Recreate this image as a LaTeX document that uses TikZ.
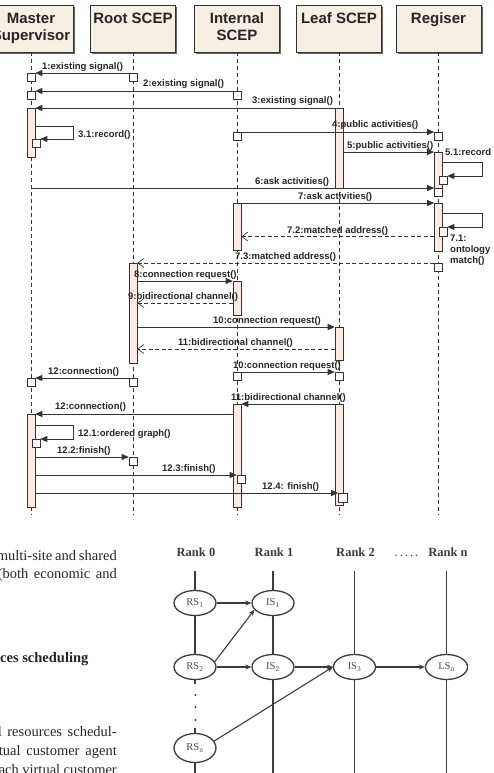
\documentclass[tikz,border=0pt]{standalone}
\usepackage{fontspec}
\setmainfont{Liberation Serif}
\setsansfont{Liberation Sans}
\usetikzlibrary{arrows.meta,shapes.geometric,shadows,calc}
\definecolor{linec}{HTML}{333333}
\definecolor{hdrfill}{HTML}{F6F0E4}
\definecolor{barfill}{HTML}{FBEBE4}
\definecolor{gc}{HTML}{3C3C3C}
\begin{document}
\begin{tikzpicture}[x=1pt,y=-1pt,
  hdr/.style={rectangle, draw=linec, line width=0.8pt, fill=hdrfill, minimum width=85pt, minimum height=47pt, inner sep=0pt, align=center, font=\sffamily\bfseries\fontsize{15}{17}\selectfont, text=black!85, drop shadow={shadow xshift=1.6pt, shadow yshift=-1.6pt, fill=black!60, opacity=1}},
  life/.style={draw=linec, line width=0.9pt, dash pattern=on 4pt off 3pt},
  bar/.style={rectangle, draw=linec, line width=0.6pt, fill=barfill, minimum width=8pt, inner sep=0pt, anchor=north},
  sbox/.style={rectangle, draw=linec, line width=0.6pt, fill=white, minimum width=8pt, minimum height=8pt, inner sep=0pt, anchor=north},
  msg/.style={draw=linec, line width=0.7pt, -{Triangle[length=7pt,width=6pt]}},
  ret/.style={draw=linec, line width=0.7pt, dash pattern=on 4pt off 2.5pt, -{Straight Barb[length=6pt,width=9pt]}},
  lbl/.style={font=\sffamily\bfseries\fontsize{9.5}{11}\selectfont, text=black!85, inner sep=0pt, anchor=base west},
  rank/.style={font=\bfseries\fontsize{12.5}{14}\selectfont, text=gc, anchor=base, inner sep=0pt},
  ell/.style={ellipse, draw=gc, line width=1.3pt, fill=white, minimum width=42pt, minimum height=25pt, inner sep=0pt, font=\fontsize{10.5}{12}\selectfont, text=black!70},
  vl/.style={draw=gc, line width=1.4pt},
  ga/.style={draw=gc, line width=1.1pt, -{Stealth[length=6pt,width=5pt]}},
  tx/.style={font=\fontsize{14.5}{16}\selectfont, text=black!85, inner sep=0pt}
]
\fill[white] (0,0) rectangle (493,773);
\useasboundingbox (0,0) rectangle (493,773);

% ---------------- headers ----------------
\node[hdr] (hM) at (31,28.5) {Master\strut\\Supervisor\strut};
\node[hdr] (hR) at (133,28.5) {Root SCEP\strut\\\strut};
\node[hdr] (hI) at (237,28.5) {Internal\strut\\SCEP\strut};
\node[hdr] (hL) at (339,28.5) {Leaf SCEP\strut\\\strut};
\node[hdr] (hG) at (438.5,28.5) {Regiser\strut\\\strut};

% ---------------- lifelines ----------------
\coordinate (eM) at (31,515);
\coordinate (eR) at (133,515);
\coordinate (eI) at (237,515);
\coordinate (eL) at (339,515);
\coordinate (eG) at (438.5,515);
\draw[life] (hM.south) -- (eM);
\draw[life] (hR.south) -- (eR);
\draw[life] (hI.south) -- (eI);
\draw[life] (hL.south) -- (eL);
\draw[life] (hG.south) -- (eG);

% ---------------- activation bars ----------------
\node[bar, minimum height=49pt] (M1) at (31,108) {};
\node[bar, minimum height=80pt] (L1) at (339,108) {};
\node[bar, minimum height=44pt] (G1) at (438.5,152) {};
\node[bar, minimum height=47pt] (I1) at (237,203) {};
\node[bar, minimum height=48pt] (G2) at (438.5,203) {};
\node[bar, minimum height=100pt] (R1) at (133,263) {};
\node[bar, minimum height=34pt] (I2) at (237,281) {};
\node[bar, minimum height=33pt] (L2) at (339,327) {};
\node[bar, minimum height=103pt] (I3) at (237,404) {};
\node[bar, minimum height=101pt] (L3) at (339,404) {};
\node[bar, minimum height=93pt] (M2) at (31,414) {};

% ---------------- small boxes ----------------
\node[sbox] (sM1) at (31,73) {};
\node[sbox] (sR1) at (133,73) {};
\node[sbox] (sM2) at (31,91) {};
\node[sbox] (sI2) at (237,91) {};
\node[sbox] (s31) at (36,139) {};
\node[sbox] (sI4) at (237,132) {};
\node[sbox] (sG4) at (438.5,132) {};
\node[sbox] (s51) at (443,176) {};
\node[sbox] (sG6) at (438.5,188) {};
\node[sbox, minimum height=9pt] (s71) at (443,227) {};
\node[sbox] (sG73) at (438.5,263) {};
\node[sbox] (sI10) at (237,372) {};
\node[sbox] (sL10) at (339,372) {};
\node[sbox] (sR12) at (133,378) {};
\node[sbox] (sM12) at (31,378) {};
\node[sbox] (s121) at (36,439) {};
\node[sbox] (sR122) at (133,457) {};
\node[sbox] (sI123) at (241,475) {};
\node[sbox, minimum width=9pt, minimum height=9pt] (sL124) at (343,493) {};

% ---------------- messages ----------------
\draw[msg] (sR1.north west) -- (sM1.north east);
\draw[msg] (sI2.north west) -- (sM2.north east);
\draw[msg] (L1.north west) -- (M1.north east);
\draw[msg] ($(M1.north east)+(0,18)$) -- ++(38,0) |- (s31.north east);
\draw[msg] (sI4.north east) -- (sG4.north west);
\draw[msg] ($(L1.north east)+(0,44)$) -- (G1.north west);
\draw[msg] ($(G1.north east)+(0,10)$) -- ++(40,0) |- (s51.north east);
\draw[msg] (hM.south |- sG6.north) -- (sG6.north west);
\draw[msg] (I1.north east) -- (G2.north west);
\draw[msg] ($(G2.north east)+(0,10)$) -- ++(40,0) |- (s71.north east);
\draw[ret] (G2.west |- s71.south) -- (I1.east |- s71.south);
\draw[ret] (sG73.north west) -- (R1.north east);
\draw[msg] ($(R1.north east)+(0,18)$) -- (I2.north west);
\coordinate (c9) at ($(I2.north west)+(0,22)$);
\draw[ret] (c9) -- (R1.east |- c9);
\draw[msg] (R1.east |- L2.north) -- (L2.north west);
\coordinate (c11) at ($(L2.north west)+(0,22)$);
\draw[ret] (c11) -- (R1.east |- c11);
\draw[msg] (sI10.north east) -- (sL10.north west);
\draw[msg] (sR12.north west) -- (sM12.north east);
\draw[msg] (L3.north west) -- (I3.north east);
\draw[msg] (I3.west |- M2.north) -- (M2.north east);
\draw[msg] ($(M2.north east)+(0,11)$) -- ++(38,0) |- (s121.north east);
\draw[msg] (M2.east |- sR122.north) -- (sR122.north west);
\draw[msg] (M2.east |- sI123.north) -- (sI123.north west);
\draw[msg] (M2.east |- sL124.north) -- (sL124.north west);

% ---------------- message labels ----------------
\node[lbl] (m1) at (42,70) {1:existing signal()};
\node[lbl] (m2) at (143,87) {2:existing signal()};
\node[lbl] (m3) at (252,104) {3:existing signal()};
\node[lbl] (m31) at (78,137) {3.1:record()};
\node[lbl] (m4) at (332,128) {4:public activities()};
\node[lbl] (m5) at (347,148) {5:public activities()};
\node[lbl] (m51) at (445,155) {5.1:record};
\node[lbl] (m6) at (255,184) {6:ask activities()};
\node[lbl] (m7) at (298,199) {7:ask activities()};
\node[lbl, anchor=north west, align=left] (m71) at (450,235) {7.1:\\ontology\\match()};
\node[lbl] (m72) at (287,233) {7.2:matched address()};
\node[lbl] (m73) at (235,259) {7.3:matched address()};
\node[lbl] (m8) at (134,277) {8:connection request()};
\node[lbl] (m9) at (128,299) {9:bidirectional channel()};
\node[lbl] (m10) at (213,323) {10:connection request()};
\node[lbl] (m11) at (178,345) {11:bidirectional channel()};
\node[lbl] (m10b) at (233,368) {10:connection request()};
\node[lbl] (m12) at (48,374) {12:connection()};
\node[lbl] (m11b) at (231,400) {11:bidirectional channel()};
\node[lbl] (m12b) at (55,409) {12:connection()};
\node[lbl] (m121) at (78,436) {12.1:ordered graph()};
\node[lbl] (m122) at (57,453) {12.2:finish()};
\node[lbl] (m123) at (162,471) {12.3:finish()};
\node[lbl] (m124) at (262,489) {12.4: finish()};

% ---------------- text fragment (left) ----------------
\node[tx, anchor=base east] (p1) at (117,560) {\makebox[120pt][s]{multi-site and shared}};
\node[tx, anchor=base east] (p2) at (117,578) {\makebox[119pt][s]{(both economic and}};
\node[tx, anchor=base west, font=\bfseries\fontsize{14.5}{16}\selectfont] (p3) at (0,662) {ces scheduling};
\node[tx, anchor=base east] (p4) at (117,736) {\makebox[119pt][s]{l resources schedul-}};
\node[tx, anchor=base east] (p5) at (117,755) {\makebox[118pt][s]{tual customer agent}};
\node[tx, anchor=base east] (p6) at (117,774) {\makebox[118pt][s]{ach virtual customer}};

% ---------------- rank graph ----------------
\node[rank] (rk0) at (196,556) {Rank 0};
\node[rank] (rk1) at (274,556) {Rank 1};
\node[rank] (rk2) at (355.5,556) {Rank 2};
\node[rank, font=\fontsize{12.5}{14}\selectfont] (rkd) at (406.5,556) {.\hspace{2pt}.\hspace{2pt}.\hspace{2pt}.\hspace{2pt}.};
\node[rank] (rkn) at (448,556) {Rank n};

\node[ell] (RS1) at (195,603) {RS\textsubscript{1}};
\node[ell] (IS1) at (273,603) {IS\textsubscript{1}};
\node[ell] (RS2) at (195,667) {RS\textsubscript{2}};
\node[ell] (IS2) at (273,667) {IS\textsubscript{2}};
\node[ell] (IS3) at (354.5,667) {IS\textsubscript{3}};
\node[ell] (LSn) at (446.5,667) {LS\textsubscript{n}};
\node[ell, minimum height=29pt] (RSn) at (195,748) {RS\textsubscript{n}};

\coordinate (t0) at (195,571); \coordinate (b0) at (195,773);
\coordinate (t1) at (273,571); \coordinate (b1) at (273,773);
\coordinate (t2) at (354.5,571); \coordinate (b2) at (354.5,773);
\coordinate (t3) at (446.5,571); \coordinate (b3) at (446.5,773);
\coordinate (d0a) at (195,684); \coordinate (d0b) at (195,728);

\draw[vl] (t0) -- (RS1); \draw[vl] (RS1) -- (RS2); \draw[vl] (RS2) -- (d0a);
\draw[vl] (d0b) -- (RSn); \draw[vl] (RSn) -- (b0);
\draw[vl] (t1) -- (IS1); \draw[vl] (IS1) -- (IS2); \draw[vl] (IS2) -- (b1);
\draw[vl] (t2) -- (IS3); \draw[vl] (IS3) -- (b2);
\draw[vl] (t3) -- (LSn); \draw[vl] (LSn) -- (b3);
\fill[gc] (195.5,695) circle (1.1);
\fill[gc] (195.5,707) circle (1.1);
\fill[gc] (195.5,720) circle (1.1);

\draw[ga] (RS1) -- (IS1);
\draw[ga] (RS2.15) -- (IS1.200);
\draw[ga] (RS2) -- (IS2);
\draw[ga] (IS2) -- (IS3);
\draw[ga] (IS3) -- (LSn);
\draw[ga] (RSn.20) -- (IS3.west);
\end{tikzpicture}
\end{document}
